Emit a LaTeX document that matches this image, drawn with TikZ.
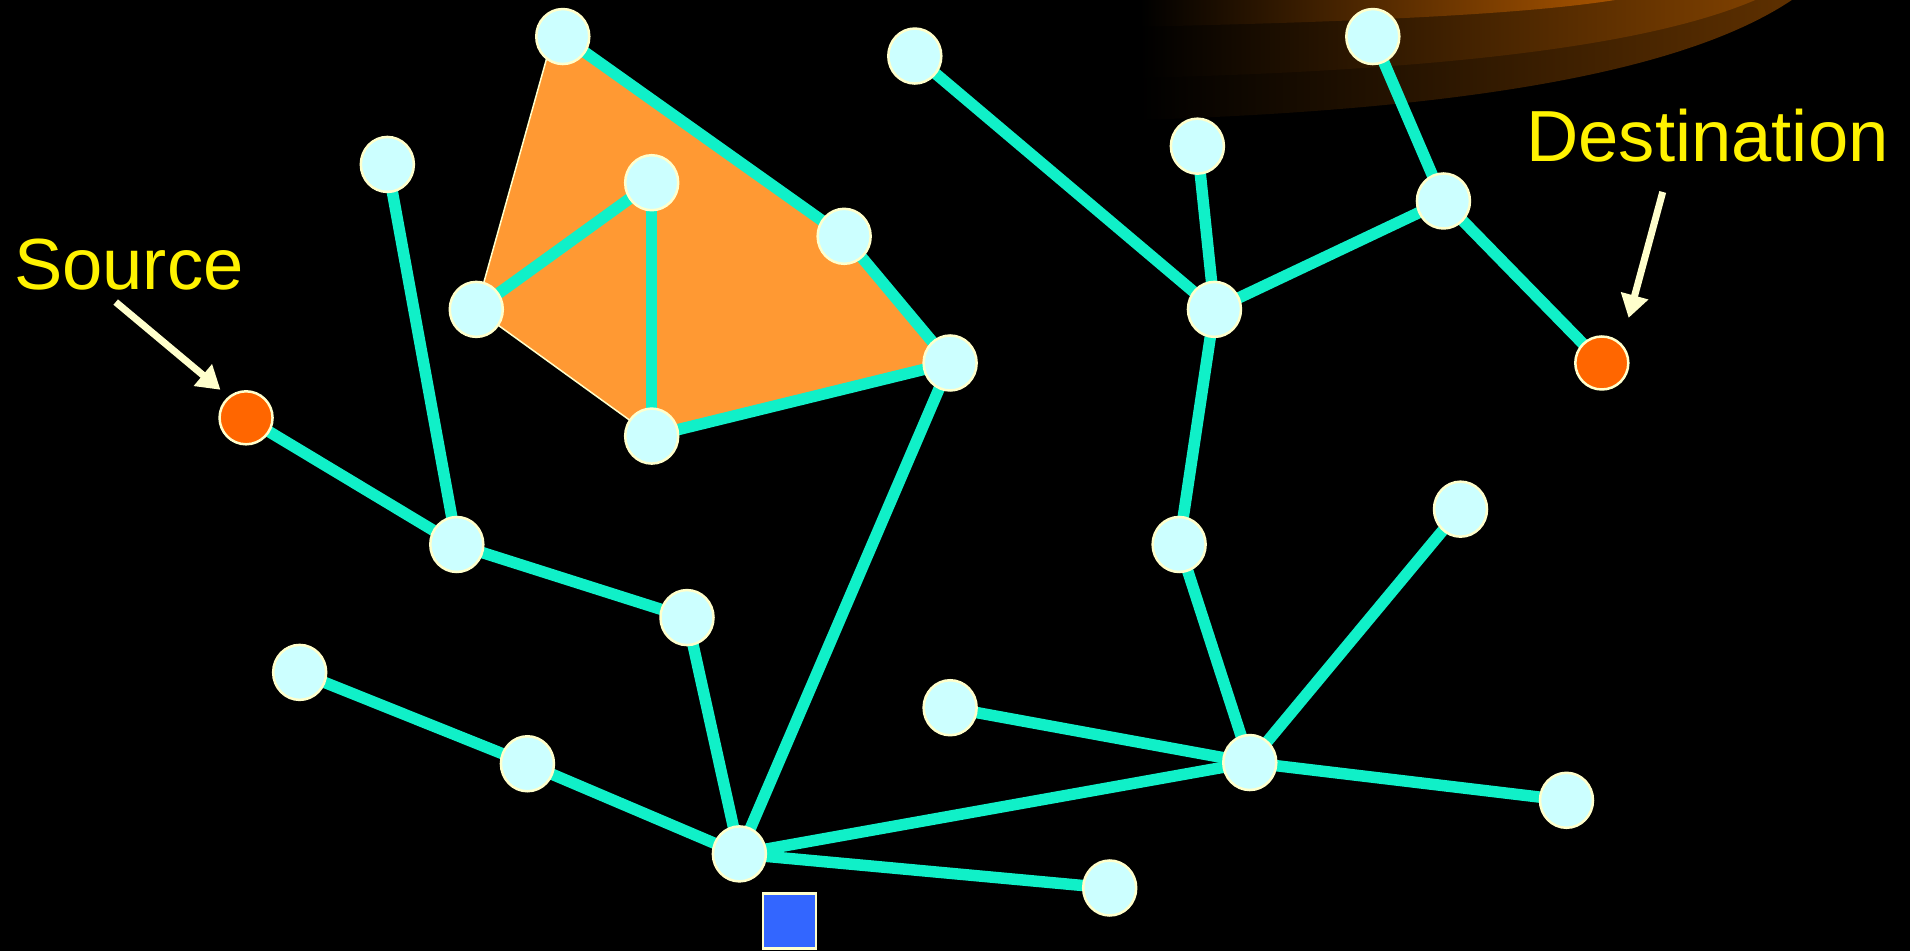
\documentclass[tikz,border=0pt]{standalone}
\usepackage{fontspec}
\setmainfont{Liberation Sans}
\usepackage{tikz}
\usetikzlibrary{arrows.meta, shapes.geometric}
\definecolor{linkcyan}{HTML}{10F0C8}
\definecolor{jointfill}{HTML}{CCFFFF}
\definecolor{cream}{HTML}{FFFFCC}
\definecolor{areaorange}{HTML}{FF9933}
\definecolor{endorange}{HTML}{FF6600}
\definecolor{sinkblue}{HTML}{3366FF}
\definecolor{haloA}{HTML}{5E3000}
\definecolor{haloB}{HTML}{7E4000}
\definecolor{haloC}{HTML}{A85400}
\tikzset{
  joint/.style={ellipse, fill=jointfill, draw=cream, line width=0.25mm, minimum width=5.3mm, minimum height=5.5mm, inner sep=0pt},
  terminal/.style={circle, fill=endorange, draw=cream, line width=0.25mm, minimum size=5.3mm, inner sep=0pt},
  sink/.style={rectangle, fill=sinkblue, draw=cream, line width=0.25mm, minimum width=5.3mm, minimum height=5.5mm, inner sep=0pt},
  link/.style={linkcyan, line width=1.15mm},
  area/.style={fill=areaorange, draw=cream, line width=0.15mm},
  note/.style={text=yellow, font=\fontsize{20.6pt}{24pt}\selectfont, inner sep=0pt, anchor=base west},
  arrow/.style={cream, line width=0.7mm, -{Triangle[length=2.3mm, width=2.7mm]}}
}

\begin{document}
\begin{tikzpicture}[x=0.12181mm, y=-0.12181mm]
		% 背景
		\fill[black] (0,0) rectangle (1568,781);
		% 右上角的光晕
		\shade[left color=black, right color=haloA] (936,0) -- (936,98.5) .. controls (1190,90.3) and (1379,61.6) .. (1471,0) -- cycle;
		\shade[left color=black, right color=haloB] (936,0) -- (936,64) .. controls (1190,57.5) and (1354.5,37) .. (1441,0) -- cycle;
		\shade[left color=black, right color=haloC] (936,0) -- (936,22) .. controls (1108,18) and (1248,12.3) .. (1326,0) -- cycle;
		% 节点位置
		\coordinate (A) at (462,30);
		\coordinate (B) at (318,135);
		\coordinate (C) at (535,150);
		\coordinate (D) at (693,194);
		\coordinate (E) at (391,254);
		\coordinate (F) at (780,298);
		\coordinate (G) at (535,358);
		\coordinate (H) at (375,447);
		\coordinate (I) at (564,507);
		\coordinate (J) at (246,552);
		\coordinate (K) at (433,627);
		\coordinate (L) at (607,701);
		\coordinate (M) at (911,729);
		\coordinate (N) at (780,581);
		\coordinate (O) at (1026,626);
		\coordinate (P) at (1286,657);
		\coordinate (Q) at (1199,418);
		\coordinate (R) at (968,447);
		\coordinate (T) at (997,254);
		\coordinate (U) at (983,120);
		\coordinate (V) at (751,46);
		\coordinate (W) at (1185,165);
		\coordinate (X) at (1127,30);
		\coordinate (S) at (202,343);
		\coordinate (Z) at (1315,298);
		% 橙色区域
		\filldraw[area] (451,40) -- (A) -- (D) -- (F) -- (G) -- (E) -- cycle;
		% 连线
		\foreach \a/\b in {A/D, D/F, F/G, E/C, C/G, F/L, B/H, S/H, H/I, I/L, J/K, K/L, L/M, L/O,
			N/O, O/P, O/Q, O/R, R/T, T/U, T/V, T/W, W/X, W/Z}
			\draw[link] (\a) -- (\b);
		% 节点
		\foreach \p in {A,B,C,D,E,F,G,H,I,J,K,L,M,N,O,P,Q,R,T,U,V,W,X}
			\node[joint] (n\p) at (\p) {};
		\node[terminal] (src) at (S) {};
		\node[terminal] (dst) at (Z) {};
		\node[sink] (sink) at (648,756) {};
		% 文字和箭头
		\node[note] (srcText) at (11,238) {Source};
		\node[note] (dstText) at (1252.5,132.7) {Destination};
		\coordinate (srcTail) at (95,248);
		\coordinate (srcTip) at (181,320);
		\coordinate (dstTail) at (1365,157.6);
		\coordinate (dstTip) at (1337,261);
		\draw[arrow] (srcTail) -- (srcTip);
		\draw[arrow] (dstTail) -- (dstTip);
	\end{tikzpicture}
\end{document}
